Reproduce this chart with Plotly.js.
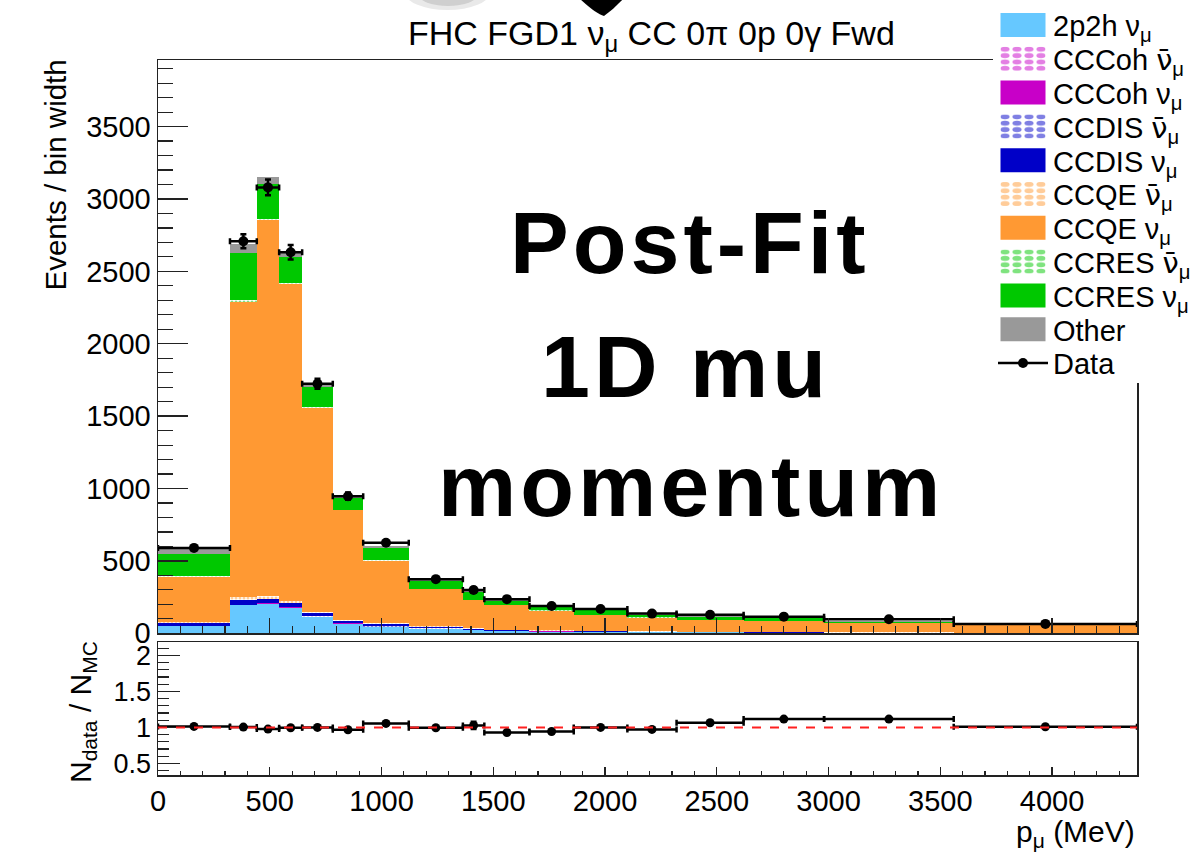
<!DOCTYPE html>
<html><head><meta charset="utf-8">
<script src="https://cdn.plot.ly/plotly-3.0.1.min.js"></script>
<style>html,body{margin:0;padding:0;background:#fff;}</style>
</head><body><div id="chart" style="width:1199px;height:864px;"></div>
<script>
// ---- data (Events / bin width) ----
const binEdges = [0, 322, 442, 542, 645, 782, 918, 1122, 1364, 1460, 1662, 1860, 2100, 2320, 2620, 2980, 3560, 4380];
const mc_2p2h_numu   = [48, 193, 205, 177, 113, 67, 44, 32, 22, 16, 12, 9, 7, 6, 4.5, 3.5, 2.5];
const mc_cccoh_nubar = [0.4, 0.5, 0.5, 0.5, 0.3, 0.3, 0.3, 0.2, 0.2, 0.2, 0.1, 0.1, 0.1, 0.1, 0.1, 0.1, 0.05];
const mc_cccoh_numu  = [2, 2, 2, 2, 1.5, 1, 1, 0.8, 0.6, 0.5, 0.4, 0.3, 0.3, 0.2, 0.2, 0.1, 0.1];
const mc_ccdis_nubar = [3, 3, 3, 3, 2.5, 2, 2, 2, 1.5, 1.5, 1.2, 1, 1, 0.8, 0.6, 0.5, 0.4];
const mc_ccdis_numu  = [20, 35, 25, 25, 21, 17, 15, 11, 6, 5, 4, 3.6, 2.6, 2, 1.6, 1, 1];
const mc_ccqe_nubar  = [5, 20, 20, 18, 12, 8, 6, 5, 4, 3, 3, 2, 2, 2, 1.5, 1, 1];
const mc_ccqe_numu   = [312, 2038, 2600, 2188, 1409, 755, 433, 255, 196, 169, 135, 110, 95, 81, 76.5, 63, 53];
const mc_ccres_nubar = [4, 10, 8, 6, 5, 3, 3, 3, 2, 2, 2, 2, 1.5, 1, 1, 1, 0.5];
const mc_ccres_numu  = [153, 325, 240, 182, 137, 78, 82, 52, 55, 28, 25, 33, 19.5, 22, 17, 10, 3.5];
const mc_other       = [39, 63, 47, 38, 23, 25, 14, 11, 6, 18, 10, 6, 8, 5, 1.5, 6, 2];
const dataValues     = [590, 2708, 3080, 2632, 1724, 947, 625, 374, 299, 236, 188, 168, 136, 128, 115, 97, 65];
const dataErrors     = [14, 48, 55, 50, 35, 25, 16, 12, 17, 10, 9, 8, 7, 6, 5, 4, 3];
const ratioValues    = [1.014, 1.005, 0.977, 0.995, 1.0, 0.968, 1.056, 0.995, 1.028, 0.93, 0.944, 1.0, 0.972, 1.065, 1.116, 1.116, 1.01];
const ratioErrors    = [0.015, 0.015, 0.015, 0.015, 0.015, 0.015, 0.015, 0.015, 0.05, 0.015, 0.015, 0.015, 0.015, 0.015, 0.015, 0.015, 0.015];

const centers = [], widths = [], halfW = [];
for (let i = 0; i < binEdges.length - 1; i++) {
  centers.push((binEdges[i] + binEdges[i+1]) / 2);
  widths.push(binEdges[i+1] - binEdges[i]);
  halfW.push((binEdges[i+1] - binEdges[i]) / 2);
}

const FONT = 'Liberation Sans, Arial, Helvetica, sans-serif';
const C_2P2H = '#66c8ff', C_COH = '#c800c8', C_DIS = '#0000c8', C_QE = '#ff9933', C_RES = '#00c800', C_OTH = '#999999';
const NUBAR = '<span style="font-family:DejaVu Sans">ν\u0304</span><sub>μ</sub>';
const NU = 'ν<sub>μ</sub>';

function barTrace(name, vals, color, hatched) {
  const marker = {color: hatched ? 'white' : color, line: {width: 0}};
  if (hatched) marker.pattern = {shape: '.', fgcolor: color, bgcolor: 'white', size: 4, solidity: 0.45, fillmode: 'overlay'};
  return {type: 'bar', x: centers, y: vals, width: widths, name: name, marker: marker,
          xaxis: 'x', yaxis: 'y', hoverinfo: 'skip'};
}

const traces = [
  barTrace('2p2h ' + NU, mc_2p2h_numu, C_2P2H, false),
  barTrace('CCCoh ' + NUBAR, mc_cccoh_nubar, C_COH, true),
  barTrace('CCCoh ' + NU, mc_cccoh_numu, C_COH, false),
  barTrace('CCDIS ' + NUBAR, mc_ccdis_nubar, C_DIS, true),
  barTrace('CCDIS ' + NU, mc_ccdis_numu, C_DIS, false),
  barTrace('CCQE ' + NUBAR, mc_ccqe_nubar, C_QE, true),
  barTrace('CCQE ' + NU, mc_ccqe_numu, C_QE, false),
  barTrace('CCRES ' + NUBAR, mc_ccres_nubar, C_RES, true),
  barTrace('CCRES ' + NU, mc_ccres_numu, C_RES, false),
  barTrace('Other', mc_other, C_OTH, false),
  {type: 'scatter', mode: 'markers', x: centers, y: dataValues, xaxis: 'x', yaxis: 'y', showlegend: false,
   marker: {color: 'black', size: 10},
   error_x: {type: 'data', array: halfW, color: 'black', thickness: 2.5, width: 3},
   error_y: {type: 'data', array: dataErrors, color: 'black', thickness: 2.5, width: 3}},
  {type: 'scatter', mode: 'lines+markers', x: [null], y: [null], xaxis: 'x', yaxis: 'y', name: 'Data',
   line: {color: 'black', width: 2.5}, marker: {color: 'black', size: 10}},
  {type: 'scatter', mode: 'markers', x: centers, y: ratioValues, xaxis: 'x2', yaxis: 'y2', showlegend: false,
   marker: {color: 'black', size: 9},
   error_x: {type: 'data', array: halfW, color: 'black', thickness: 2.5, width: 3},
   error_y: {type: 'data', array: ratioErrors, color: 'black', thickness: 2.5, width: 3}}
];

// pixel helpers for decorations (plot area: left 158, right 1137, top 60, bottom 775)
const L = 158, R = 1137, T = 60, B = 775;
const px = p => (p - L) / (R - L);
const py = p => (B - p) / (B - T);

const axisCommon = {showline: true, linecolor: '#222', linewidth: 1.5, mirror: true, showgrid: false, zeroline: false,
                    ticks: 'inside', tickcolor: '#222', tickwidth: 1.3,
                    tickfont: {family: FONT, size: 29, color: 'black'}};

const layout = {
  width: 1199, height: 864,
  margin: {l: L, r: 1199 - R, t: T, b: 864 - B, autoexpand: false},
  paper_bgcolor: 'white', plot_bgcolor: 'white',
  barmode: 'stack', bargap: 0,
  showlegend: true,
  font: {family: FONT, color: 'black'},
  legend: {x: px(993), y: py(6), xanchor: 'left', yanchor: 'top', bgcolor: 'white', borderwidth: 0,
           traceorder: 'normal', itemwidth: 50, tracegroupgap: 0,
           font: {family: FONT, size: 29, color: 'black'}},
  xaxis: Object.assign({}, axisCommon, {domain: [0, 1], anchor: 'y', range: [0, 4380], tick0: 0, dtick: 500,
           showticklabels: false, ticklen: 15,
           minor: {dtick: 100, ticklen: 7, ticks: 'inside', tickcolor: '#222', tickwidth: 1.2}}),
  yaxis: Object.assign({}, axisCommon, {domain: [py(633.3), 1], anchor: 'x', range: [0, 3960], tick0: 0, dtick: 500,
           ticklen: 30, minor: {dtick: 100, ticklen: 15, ticks: 'inside', tickcolor: '#222', tickwidth: 1.2}}),
  xaxis2: Object.assign({}, axisCommon, {domain: [0, 1], anchor: 'y2', range: [0, 4380], tick0: 0, dtick: 500,
           ticklen: 8, minor: {dtick: 100, ticklen: 4, ticks: 'inside', tickcolor: '#222', tickwidth: 1.2}}),
  yaxis2: Object.assign({}, axisCommon, {domain: [0, py(642)], anchor: 'x2', range: [0.34, 2.185], tick0: 0, dtick: 0.5,
           ticklen: 22, tickfont: {family: FONT, size: 27, color: 'black'},
           minor: {dtick: 0.1, ticklen: 11, ticks: 'inside', tickcolor: '#222', tickwidth: 1.2}}),
  shapes: [
    {type: 'line', xref: 'x2 domain', x0: 0, x1: 1, yref: 'y2', y0: 1, y1: 1, layer: 'above',
     line: {color: '#ff2020', width: 2, dash: 'dash'}},
    {type: 'circle', xref: 'paper', yref: 'paper', x0: px(405), x1: px(490), y0: py(10), y1: py(-25),
     fillcolor: 'rgba(215,215,215,0.55)', line: {width: 0}, layer: 'above'},
    {type: 'circle', xref: 'paper', yref: 'paper', x0: px(418), x1: px(478), y0: py(6), y1: py(-18),
     fillcolor: 'rgba(190,190,190,0.6)', line: {width: 0}, layer: 'above'},
    {type: 'path', xref: 'paper', yref: 'paper', layer: 'above', fillcolor: 'black', line: {width: 0},
     path: `M ${px(579)},${py(-2)} L ${px(624)},${py(-2)} Q ${px(614)},${py(9)} ${px(604)},${py(16)} Q ${px(596)},${py(14)} ${px(579)},${py(-2)} Z`}
  ],
  annotations: [
    {xref: 'paper', yref: 'paper', x: px(651), y: py(36), xanchor: 'center', yanchor: 'middle', showarrow: false,
     text: 'FHC FGD1 ν<sub>μ</sub> CC 0π 0p 0γ Fwd', font: {family: FONT, size: 34, color: 'black'}},
    {xref: 'paper', yref: 'paper', x: px(55), y: py(58), xanchor: 'center', yanchor: 'top', showarrow: false,
     textangle: -90, text: 'Events / bin width', font: {family: FONT, size: 29.5, color: 'black'}},
    {xref: 'paper', yref: 'paper', x: px(82), y: py(712), xanchor: 'center', yanchor: 'middle', showarrow: false,
     textangle: -90, text: 'N<sub>data</sub> / N<sub>MC</sub>', font: {family: FONT, size: 30, color: 'black'}},
    {xref: 'paper', yref: 'paper', x: px(1137), y: py(833), xanchor: 'right', yanchor: 'middle', showarrow: false,
     text: 'p<sub>μ</sub> (MeV)', font: {family: FONT, size: 30, color: 'black'}},
    {xref: 'paper', yref: 'paper', x: px(690), y: py(243), xanchor: 'center', yanchor: 'middle', showarrow: false,
     text: '<b>Post-Fit</b>', font: {family: FONT, size: 88, color: 'black'}},
    {xref: 'paper', yref: 'paper', x: px(685), y: py(366), xanchor: 'center', yanchor: 'middle', showarrow: false,
     text: '<b>1D mu</b>', font: {family: FONT, size: 88, color: 'black'}},
    {xref: 'paper', yref: 'paper', x: px(691), y: py(485), xanchor: 'center', yanchor: 'middle', showarrow: false,
     text: '<b>momentum</b>', font: {family: FONT, size: 88, color: 'black'}}
  ]
};

Plotly.newPlot('chart', traces, layout, {staticPlot: true, displayModeBar: false}).then(gd => {
  // enlarge legend swatches and set ROOT-like legend row spacing
  const rows = gd.querySelectorAll('.legend .traces');
  rows.forEach((tr, i) => {
    const m = /translate\(\s*([-\d.]+)[ ,]+([-\d.]+)\s*\)/.exec(tr.getAttribute('transform') || '');
    const x = m ? m[1] : 0;
    tr.setAttribute('transform', `translate(${x},${19 + i * 33.8})`);
    tr.querySelectorAll('.legendpoints path').forEach(p => {
      if (p.classList.contains('scatterpts')) return;
      const t = p.getAttribute('transform') || '';
      p.setAttribute('transform', t + ' scale(3.75,2.0)');
    });
  });
  const bg = gd.querySelector('.legend .bg');
  if (bg) bg.setAttribute('height', 19 + 10 * 33.8 + 20);
  // letter spacing for the large overlay text
  gd.querySelectorAll('.annotation-text').forEach(t => {
    const s = t.textContent;
    if (s === 'Post-Fit' || s === '1D mu' || s === 'momentum') t.style.letterSpacing = '4px';
  });
});
</script>
</body></html>
